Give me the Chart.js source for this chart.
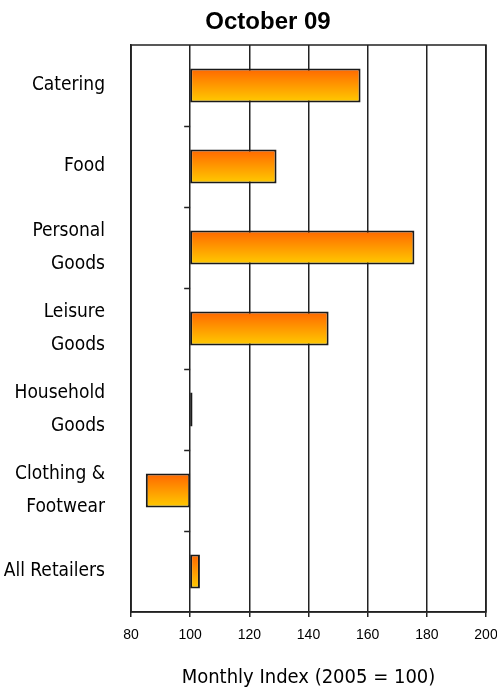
<!DOCTYPE html>
<html lang="en">
<head>
  <meta charset="UTF-8">
  <title>October 09</title>
  <script src="https://cdn.jsdelivr.net/npm/chart.js"></script>
  <style>
    html, body { margin: 0; padding: 0; background: #fff; }
    #wrap { width: 497px; height: 690px; }
  </style>
</head>
<body>
  <div id="wrap"><canvas id="retailChart" width="497" height="690"></canvas></div>

  <script>
    // categories (top to bottom) and monthly index values, 2005 = 100
    const categories = [
      'Catering',
      'Food',
      ['Personal', 'Goods'],
      ['Leisure', 'Goods'],
      ['Household', 'Goods'],
      ['Clothing &', 'Footwear'],
      'All Retailers'
    ];
    const indexValues = [157.6, 129.2, 175.8, 146.8, 100.8, 85.0, 103.3];
    const baseValue = 100;
    const xTicks = [80, 100, 120, 140, 160, 180, 200];

    const chartTitle = 'October 09';
    const axisTitle = 'Monthly Index (2005 = 100)';

    const narrow = '"DejaVu Sans Condensed", "Liberation Sans", sans-serif';
    const barPct = 0.42;

    // bars float from the base value (100) to each index value
    const bars = indexValues.map(v => [baseValue, v]);

    // orange (top) to yellow (bottom) fill for each bar
    function barGradient(context) {
      const chart = context.chart;
      const y = chart.scales.y;
      if (!chart.chartArea || !y) return '#ff9900';
      const c = y.getPixelForValue(context.dataIndex);
      const half = (y.height / categories.length) * barPct / 2;
      const g = chart.ctx.createLinearGradient(0, c - half, 0, c + half);
      g.addColorStop(0, '#ff6600');
      g.addColorStop(1, '#ffcc00');
      return g;
    }

    // frame round the plot, small ticks between categories on the 100 line, and title
    const framePlugin = {
      id: 'frame',
      afterDraw(chart) {
        const ctx = chart.ctx;
        const a = chart.chartArea;
        const x100 = chart.scales.x.getPixelForValue(baseValue);
        const y = chart.scales.y;
        ctx.save();
        ctx.strokeStyle = '#222';
        ctx.lineWidth = 1.5;
        ctx.strokeRect(a.left, a.top, a.right - a.left, a.bottom - a.top);
        ctx.beginPath();
        for (let i = 0; i < categories.length - 1; i++) {
          const py = Math.round(y.getPixelForValue(i + 0.5)) + 0.5;
          ctx.moveTo(x100 - 6, py);
          ctx.lineTo(x100, py);
        }
        ctx.stroke();
        ctx.fillStyle = '#000';
        ctx.font = 'bold 24px "Liberation Sans", Arial, sans-serif';
        ctx.textAlign = 'center';
        ctx.textBaseline = 'middle';
        ctx.fillText(chartTitle, 268, 22);
        ctx.restore();
      }
    };

    new Chart(document.getElementById('retailChart'), {
      type: 'bar',
      data: {
        labels: categories,
        datasets: [{
          data: bars,
          backgroundColor: barGradient,
          borderColor: '#1a1a1a',
          borderWidth: 2,
          borderSkipped: false,
          barPercentage: barPct,
          categoryPercentage: 1
        }]
      },
      options: {
        indexAxis: 'y',
        responsive: false,
        animation: false,
        layout: { padding: { top: 45, right: 11, left: 0, bottom: 0 } },
        plugins: {
          legend: { display: false },
          tooltip: { enabled: false }
        },
        scales: {
          x: {
            min: 80,
            max: 200,
            afterBuildTicks(scale) { scale.ticks = xTicks.map(v => ({ value: v })); },
            afterFit(scale) {
              scale.height = 78;
              scale.paddingLeft = 0;
              scale.paddingRight = 0;
            },
            grid: { color: '#222', lineWidth: 1.5, tickLength: 5, drawOnChartArea: true },
            border: { color: '#222', width: 1.5 },
            ticks: {
              color: '#000',
              padding: 10,
              maxRotation: 0,
              font: { family: '"Liberation Sans", Arial, sans-serif', size: 14 }
            },
            title: {
              display: true,
              text: axisTitle,
              color: '#000',
              padding: { top: 0, bottom: 0 },
              font: { family: narrow, size: 20 }
            }
          },
          y: {
            afterFit(scale) { scale.width = 131; },
            grid: { display: false },
            border: { color: '#222', width: 1.5 },
            ticks: {
              color: '#000',
              padding: 18,
              font: { family: narrow, size: 19, lineHeight: 1.75 }
            }
          }
        }
      },
      plugins: [framePlugin]
    });
  </script>
</body>
</html>
